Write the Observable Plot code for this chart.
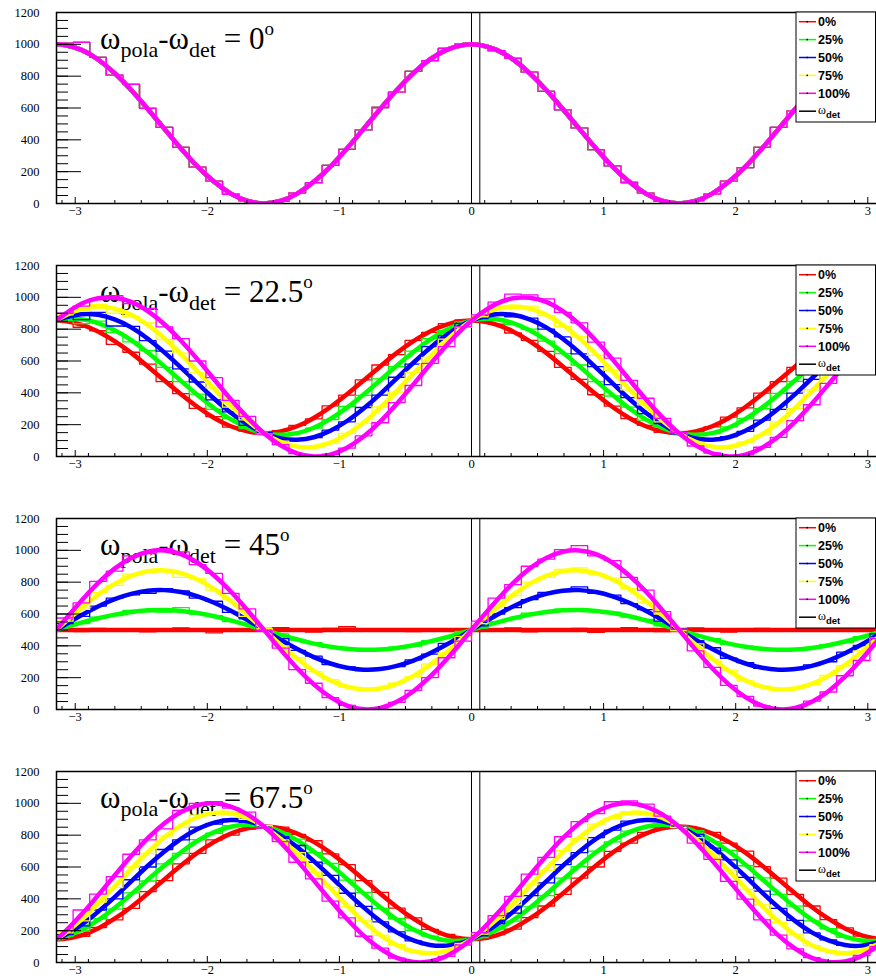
<!DOCTYPE html>
<html>
<head>
<meta charset="utf-8">
<script src="https://cdn.jsdelivr.net/npm/d3@7"></script>
<script src="https://cdn.jsdelivr.net/npm/@observablehq/plot@0.6"></script>
<style>
  html, body { margin: 0; padding: 0; background: #fff; overflow: hidden; }
  #charts { width: 876px; overflow: hidden; }
  #charts svg { display: block; max-width: none !important; }
</style>
</head>
<body>
<div id="charts"></div>
<script>
// Polarisation degrees, their colours and the four polariser/detector angle offsets
const series = ["0%", "25%", "50%", "75%", "100%"];
const colors = ["#ff0000", "#00ff00", "#0000ff", "#ffff00", "#ff00ff"];
const angles = ["0", "22.5", "45", "67.5"];

// Histogram binning over the azimuth
const nBins = 50;
const xMin = -Math.PI, xMax = Math.PI;

// Detector orientation marker (bin edges)
const omegaDet = [0, 0.063];

// Axis ticks
const xMajor = [-3, -2, -1, 0, 1, 2, 3];
const xMinor = d3.range(-31, 32, 2).map(v => v / 10);
const yMajor = [0, 200, 400, 600, 800, 1000, 1200];
const yMinor = d3.range(0, 1201, 50);

// Fitted curves at the bin centres, one period (25 bins) each; the fit is π-periodic
const fit0 = [996, 965, 905, 819, 713, 594, 469, 346, 232, 136, 62, 16, 0, 16, 62, 136, 232, 346, 469, 594, 713, 819, 905, 965, 996];
const fit22 = [
  [851, 829, 786, 725, 651, 566, 478, 391, 311, 242, 190, 158, 146, 158, 190, 242, 311, 391, 478, 566, 651, 725, 786, 829, 851],
  [862, 862, 838, 793, 731, 653, 566, 475, 386, 303, 233, 180, 146, 136, 147, 181, 236, 307, 390, 479, 571, 657, 734, 796, 840],
  [873, 894, 890, 861, 811, 740, 654, 559, 460, 363, 275, 202, 146, 114, 105, 121, 162, 223, 302, 392, 491, 589, 682, 764, 829],
  [884, 927, 942, 929, 891, 826, 743, 643, 535, 424, 318, 224, 146, 92, 62, 60, 87, 139, 213, 306, 411, 521, 630, 731, 818],
  [895, 959, 994, 997, 971, 913, 831, 727, 610, 484, 360, 246, 146, 70, 20, 0, 12, 55, 125, 219, 331, 453, 578, 699, 807]
];
const fit45 = [
  [500, 500, 500, 500, 500, 500, 500, 500, 500, 500, 500, 500, 500, 500, 500, 500, 500, 500, 500, 500, 500, 500, 500, 500, 500],
  [516, 546, 573, 596, 613, 623, 625, 619, 606, 586, 560, 531, 500, 469, 440, 414, 394, 381, 375, 377, 387, 404, 427, 454, 484],
  [531, 592, 647, 693, 726, 746, 750, 738, 711, 671, 620, 562, 500, 438, 380, 329, 289, 262, 250, 254, 274, 307, 353, 408, 469],
  [547, 638, 720, 789, 839, 868, 874, 857, 817, 757, 681, 593, 500, 407, 319, 243, 183, 143, 126, 132, 161, 211, 280, 362, 453],
  [563, 684, 794, 885, 952, 991, 999, 976, 922, 842, 741, 624, 500, 376, 259, 158, 78, 24, 1, 9, 48, 115, 206, 316, 437]
];
const fit67 = [
  [149, 171, 214, 275, 349, 434, 522, 609, 690, 758, 810, 843, 854, 843, 810, 758, 690, 609, 522, 434, 349, 275, 214, 171, 149],
  [160, 204, 266, 343, 429, 521, 610, 693, 765, 819, 853, 865, 854, 821, 767, 697, 615, 525, 434, 347, 269, 207, 162, 138, 138],
  [171, 236, 318, 411, 509, 608, 698, 777, 839, 879, 895, 887, 854, 799, 725, 637, 541, 441, 346, 260, 189, 139, 110, 106, 127],
  [182, 269, 370, 479, 589, 694, 787, 861, 914, 940, 938, 909, 854, 777, 682, 576, 466, 357, 257, 174, 109, 71, 58, 73, 116],
  [193, 301, 422, 547, 669, 781, 875, 945, 989, 1000, 980, 931, 854, 755, 640, 516, 391, 273, 169, 87, 29, 3, 6, 41, 105]
];
// Fit values at the range edges (φ = ±π)
const fitEdge = [1000, 854, 500, 146];

// Histogram counts, 50 bins each
const hist0 = [1008, 1012, 918, 806, 748, 598, 478, 352, 228, 141, 58, 17, 0, 14, 66, 131, 240, 340, 462, 603, 700, 830, 898, 975, 1003,
               990, 960, 912, 825, 704, 588, 475, 339, 236, 132, 65, 14, 1, 18, 59, 140, 226, 352, 478, 582, 720, 812, 910, 958, 994];
const hist22 = [
  [848, 812, 790, 705, 655, 580, 470, 395, 302, 250, 185, 160, 140, 162, 195, 236, 318, 385, 482, 575, 640, 730, 780, 835, 858,
   845, 832, 776, 730, 660, 560, 485, 388, 316, 238, 196, 152, 150, 155, 186, 248, 305, 398, 470, 560, 655, 718, 795, 822, 846],
  [858, 835, 850, 780, 720, 665, 560, 470, 392, 296, 240, 176, 150, 130, 152, 178, 232, 315, 384, 488, 565, 662, 740, 790, 846,
   870, 855, 830, 800, 725, 646, 575, 470, 380, 310, 228, 185, 142, 140, 144, 186, 240, 300, 396, 472, 578, 650, 728, 805, 834],
  [880, 860, 905, 820, 818, 728, 662, 550, 468, 356, 280, 196, 150, 110, 108, 118, 166, 218, 308, 385, 498, 580, 690, 758, 836,
   866, 900, 878, 870, 800, 752, 645, 565, 452, 370, 270, 206, 142, 118, 102, 125, 158, 228, 296, 398, 484, 596, 675, 772, 822],
  [890, 915, 955, 900, 880, 840, 735, 650, 525, 432, 310, 230, 142, 96, 58, 63, 84, 145, 208, 312, 404, 528, 622, 738, 812,
   878, 935, 930, 945, 885, 818, 752, 635, 542, 418, 324, 218, 150, 88, 65, 57, 90, 134, 218, 300, 418, 515, 638, 724, 825],
  [900, 945, 985, 1010, 960, 930, 815, 740, 600, 495, 352, 252, 140, 74, 18, 0, 14, 52, 130, 212, 338, 446, 585, 690, 815,
   890, 970, 1020, 1015, 990, 905, 840, 718, 618, 478, 366, 240, 150, 66, 22, 1, 10, 58, 120, 225, 325, 460, 572, 708, 800]
];
const hist45 = [
  [502, 490, 510, 495, 505, 488, 500, 512, 497, 482, 506, 494, 503, 515, 498, 486, 509, 520, 493, 501, 507, 490, 496, 504, 499,
   508, 492, 512, 488, 503, 497, 510, 484, 500, 515, 495, 490, 506, 512, 498, 487, 503, 509, 495, 500, 514, 492, 498, 505, 496],
  [520, 540, 580, 590, 622, 615, 612, 640, 600, 590, 552, 535, 496, 475, 436, 420, 390, 385, 368, 380, 392, 398, 432, 450, 490,
   512, 550, 570, 605, 608, 630, 620, 615, 612, 580, 566, 526, 505, 462, 445, 410, 398, 376, 380, 372, 390, 408, 420, 458, 480],
  [540, 585, 650, 700, 720, 730, 760, 745, 700, 680, 610, 570, 495, 445, 372, 335, 282, 268, 245, 258, 270, 312, 348, 415, 462,
   525, 600, 640, 690, 735, 740, 770, 730, 718, 665, 628, 555, 505, 432, 388, 322, 294, 258, 254, 250, 280, 300, 360, 402, 475],
  [555, 630, 735, 780, 850, 860, 880, 830, 820, 750, 690, 585, 508, 400, 325, 238, 188, 140, 130, 128, 165, 206, 286, 356, 460,
   540, 650, 715, 800, 830, 880, 890, 850, 825, 760, 675, 600, 495, 412, 312, 248, 180, 146, 122, 135, 158, 215, 275, 368, 448],
  [575, 670, 805, 870, 965, 980, 1010, 990, 910, 855, 730, 632, 495, 385, 250, 165, 74, 26, 2, 10, 45, 120, 200, 325, 430,
   555, 700, 785, 900, 945, 1005, 1030, 965, 935, 830, 750, 615, 505, 368, 265, 152, 82, 22, 0, 8, 52, 110, 212, 308, 445]
];
const hist67 = [
  [152, 165, 220, 268, 340, 445, 515, 620, 685, 770, 800, 838, 860, 850, 805, 765, 682, 615, 515, 440, 342, 280, 208, 176, 145,
   146, 175, 210, 282, 355, 428, 530, 600, 698, 750, 818, 848, 848, 835, 818, 750, 700, 602, 530, 428, 355, 270, 218, 166, 152],
  [165, 198, 275, 335, 438, 512, 620, 685, 772, 812, 860, 858, 860, 815, 775, 690, 622, 518, 440, 340, 275, 202, 166, 135, 140,
   156, 210, 260, 350, 420, 530, 602, 700, 758, 825, 848, 872, 850, 828, 760, 705, 608, 532, 428, 354, 262, 212, 158, 141, 136],
  [175, 230, 330, 400, 520, 600, 710, 770, 850, 870, 900, 880, 860, 790, 735, 630, 548, 435, 352, 255, 192, 136, 112, 104, 130,
   168, 245, 310, 420, 500, 615, 690, 785, 832, 888, 890, 895, 848, 805, 718, 645, 535, 448, 340, 265, 186, 142, 108, 108, 124],
  [186, 262, 380, 470, 600, 685, 795, 850, 925, 935, 945, 900, 860, 770, 690, 568, 472, 350, 262, 170, 112, 68, 60, 70, 120,
   178, 275, 362, 488, 580, 702, 780, 870, 905, 948, 930, 915, 848, 785, 675, 582, 460, 362, 252, 178, 106, 74, 56, 76, 112],
  [200, 330, 430, 540, 680, 770, 840, 955, 1000, 1010, 970, 945, 845, 760, 630, 525, 385, 280, 165, 90, 27, 2, 7, 38, 110,
   188, 295, 415, 555, 660, 790, 885, 935, 1010, 1015, 995, 920, 860, 750, 648, 510, 398, 268, 172, 85, 31, 4, 5, 44, 100]
];

// At 0° offset all five polarisation degrees give the same distribution
const panels = [
  {angle: angles[0], fits: series.map(() => fit0), hists: series.map(() => hist0), edge: fitEdge[0]},
  {angle: angles[1], fits: fit22, hists: hist22, edge: fitEdge[1]},
  {angle: angles[2], fits: fit45, hists: hist45, edge: fitEdge[2]},
  {angle: angles[3], fits: fit67, hists: hist67, edge: fitEdge[3]}
];

const binW = (xMax - xMin) / nBins;
const centers = d3.range(nBins).map(i => xMin + (i + 0.5) * binW);

function histRows(h) {
  return [{x: xMin, y: h[0]}, ...h.map((v, i) => ({x: centers[i], y: v})), {x: xMax, y: h[h.length - 1]}];
}
function fitRows(f, edge) {
  return [{x: xMin, y: edge}, ...centers.map((c, i) => ({x: c, y: f[i % f.length]})), {x: xMax, y: edge}];
}

const W = 900, H = 253, mL = 56, mR = 14, mT = 12, mB = 50;
const frameW = W - mL - mR, frameH = H - mT - mB;
const serif = "'Liberation Serif', 'Times New Roman', serif";

function addTitle(svg, angle) {
  const ns = "http://www.w3.org/2000/svg";
  const text = document.createElementNS(ns, "text");
  const t = d3.select(text)
    .attr("x", 100).attr("y", mT + 36.5)
    .attr("text-anchor", "start")
    .attr("font-family", serif).attr("font-size", 31)
    .attr("fill", "#000").style("white-space", "pre");
  t.append("tspan").text("ω");
  t.append("tspan").attr("font-size", 22).attr("dy", 8).text("pola");
  t.append("tspan").attr("dy", -8).text("-ω");
  t.append("tspan").attr("font-size", 22).attr("dy", 8).text("det");
  t.append("tspan").attr("dy", -8).text(" = " + angle);
  t.append("tspan").attr("font-size", 19).attr("dy", -14).text("o");
  // beneath the curves
  const style = svg.querySelector("style");
  if (style) style.after(text); else svg.prepend(text);
}

function addLegend(svg) {
  const g = d3.select(svg).append("g").attr("text-anchor", "start");
  g.append("rect").attr("x", 796).attr("y", mT).attr("width", 79.5).attr("height", 110)
    .attr("fill", "#fff").attr("stroke", "#000").attr("stroke-width", 1);
  const step = 17.9;
  series.forEach((s, j) => {
    const yc = mT + 9.7 + j * step;
    g.append("line").attr("x1", 799).attr("x2", 816).attr("y1", yc).attr("y2", yc)
      .attr("stroke", colors[j]).attr("stroke-width", 1.5);
    g.append("rect").attr("x", 806.5).attr("y", yc - 0.75).attr("width", 1.5).attr("height", 1.5).attr("fill", "#000");
    g.append("text").attr("x", 818).attr("y", yc + 4.6)
      .attr("font-family", "'Liberation Sans', Arial, sans-serif").attr("font-weight", "bold").attr("font-size", 12.5)
      .attr("fill", "#000").text(s);
  });
  const yd = mT + 9.7 + 5 * step;
  g.append("line").attr("x1", 799).attr("x2", 816).attr("y1", yd).attr("y2", yd)
    .attr("stroke", "#000").attr("stroke-width", 1.5);
  const t = g.append("text").attr("x", 818).attr("y", yd + 2.5).attr("fill", "#000");
  t.append("tspan").attr("font-family", serif).attr("font-size", 12).text("ω");
  t.append("tspan").attr("font-family", "'Liberation Sans', Arial, sans-serif").attr("font-weight", "bold")
    .attr("font-size", 9.5).attr("dy", 4).text("det");
}

function panel(p) {
  const marks = [Plot.ruleX(omegaDet, {x: d => d, stroke: "#000", strokeWidth: 1})];
  series.forEach((s, j) => {
    marks.push(Plot.line(histRows(p.hists[j]), {x: "x", y: "y", curve: "step", stroke: colors[j], strokeWidth: 1.3, clip: true}));
    marks.push(Plot.line(fitRows(p.fits[j], p.edge), {x: "x", y: "y", curve: "natural", stroke: colors[j], strokeWidth: 4.5, clip: true}));
  });
  marks.push(
    Plot.tickY(yMajor, {y: d => d, insetRight: frameW - 25, stroke: "#000"}),
    Plot.tickY(yMinor, {y: d => d, insetRight: frameW - 12, stroke: "#000"}),
    Plot.tickX(xMajor, {x: d => d, insetTop: frameH - 6, stroke: "#000"}),
    Plot.tickX(xMinor, {x: d => d, insetTop: frameH - 3, stroke: "#000"}),
    Plot.frame({stroke: "#000", strokeWidth: 1.5}),
    Plot.axisY(yMajor, {tickSize: 0, tickPadding: 17, tickFormat: "d", label: null, fontFamily: serif, fontSize: 12.5}),
    Plot.axisX(xMajor, {tickSize: 0, tickPadding: 3, tickFormat: "d", label: null, fontFamily: serif, fontSize: 12.5})
  );
  const svg = Plot.plot({
    width: W, height: H,
    marginLeft: mL, marginRight: mR, marginTop: mT, marginBottom: mB,
    x: {domain: [xMin, xMax]},
    y: {domain: [0, 1200]},
    style: {fontFamily: serif, fontSize: "12.5px", color: "#000", background: "#fff"},
    marks
  });
  addTitle(svg, p.angle);
  addLegend(svg);
  return svg;
}

const root = document.getElementById("charts");
panels.forEach(p => root.appendChild(panel(p)));
</script>
</body>
</html>
